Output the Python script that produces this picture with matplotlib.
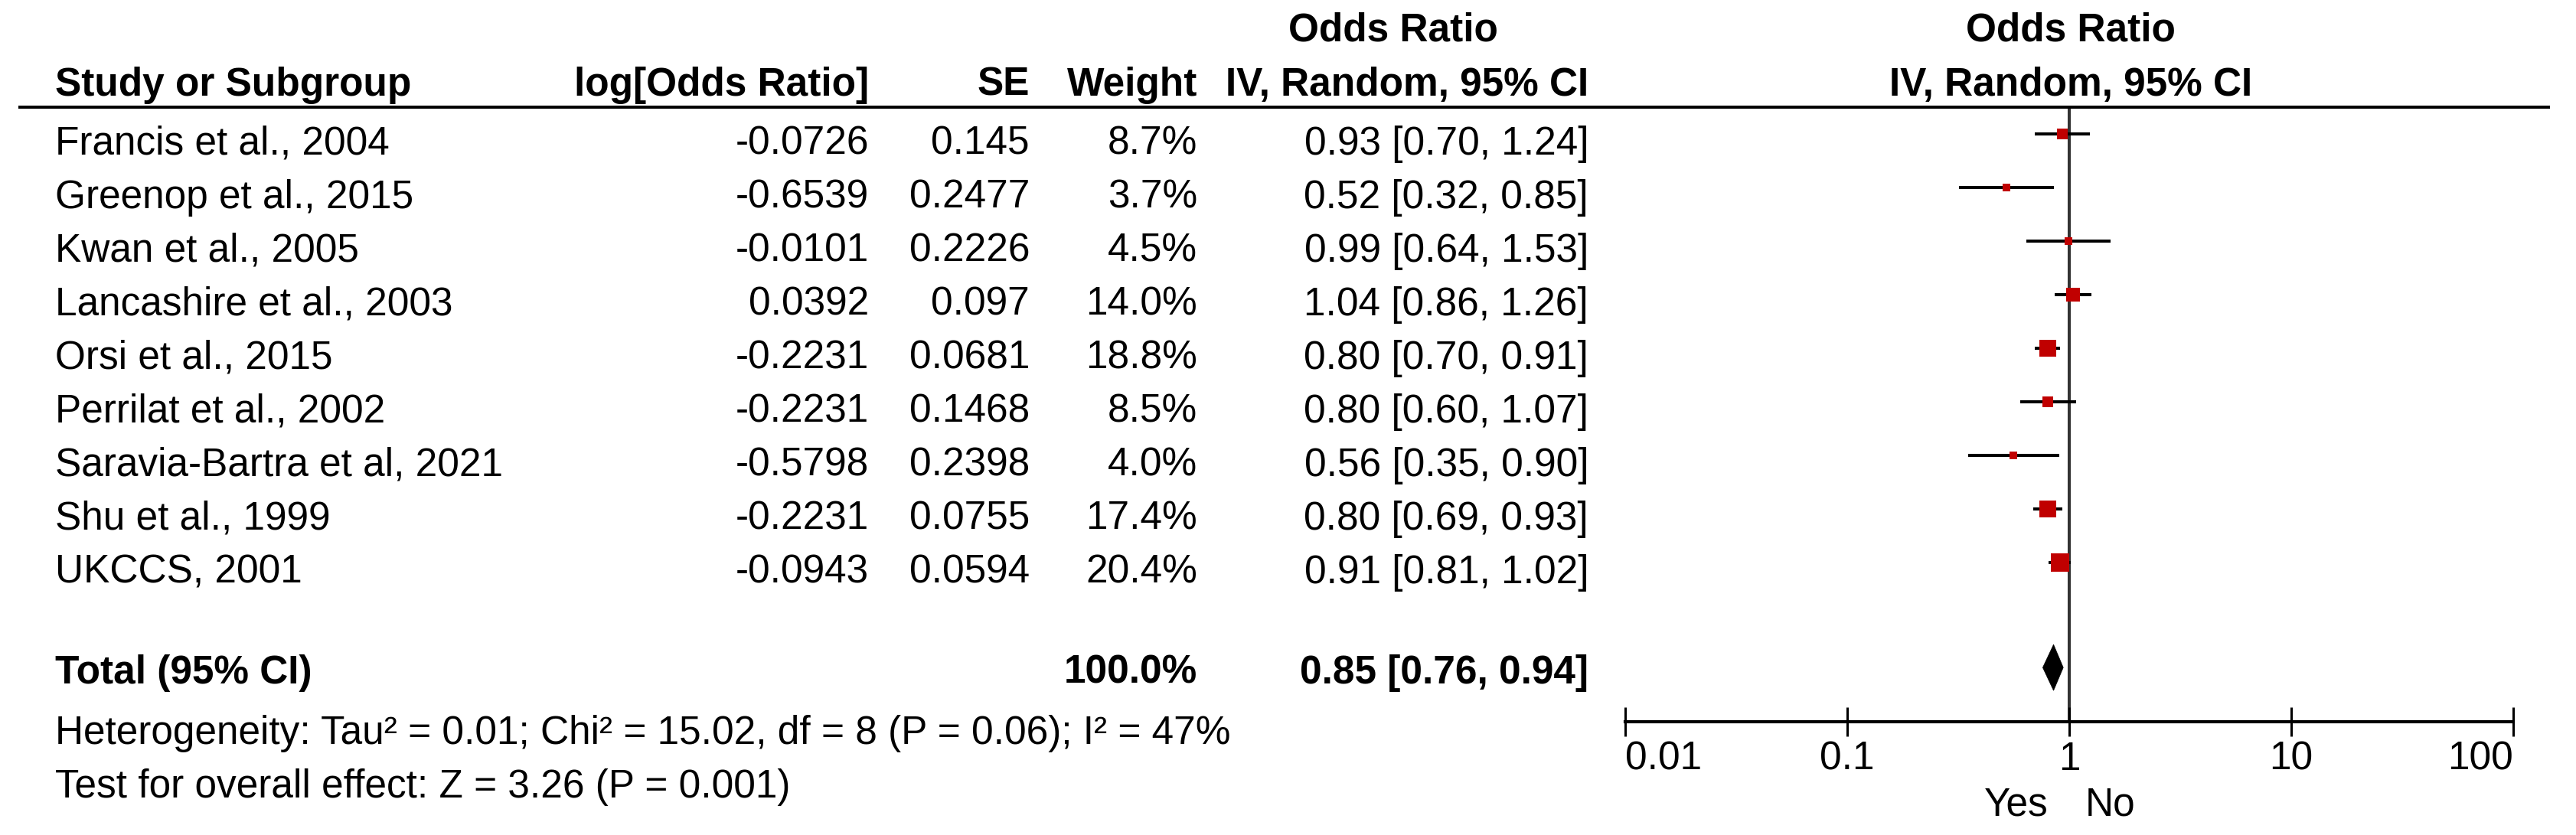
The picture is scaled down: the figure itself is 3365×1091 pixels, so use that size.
import matplotlib
matplotlib.use("Agg")
import matplotlib.pyplot as plt
from matplotlib.lines import Line2D
from matplotlib.patches import Polygon
import matplotlib.transforms as mtransforms

plt.rcParams['font.family'] = ['Liberation Sans', 'DejaVu Sans']

# ---------------- data ----------------
studies = ["Francis et al., 2004", "Greenop et al., 2015", "Kwan et al., 2005",
           "Lancashire et al., 2003", "Orsi et al., 2015", "Perrilat et al., 2002",
           "Saravia-Bartra et al, 2021", "Shu et al., 1999", "UKCCS, 2001"]
log_or = ["-0.0726", "-0.6539", "-0.0101", "0.0392", "-0.2231", "-0.2231",
          "-0.5798", "-0.2231", "-0.0943"]
se = ["0.145", "0.2477", "0.2226", "0.097", "0.0681", "0.1468", "0.2398",
      "0.0755", "0.0594"]
weights = [8.7, 3.7, 4.5, 14.0, 18.8, 8.5, 4.0, 17.4, 20.4]
odds = [0.93, 0.52, 0.99, 1.04, 0.80, 0.80, 0.56, 0.80, 0.91]
ci_low = [0.70, 0.32, 0.64, 0.86, 0.70, 0.60, 0.35, 0.69, 0.81]
ci_high = [1.24, 0.85, 1.53, 1.26, 0.91, 1.07, 0.90, 0.93, 1.02]

total_weight = 100.0
total_or = 0.85
total_low = 0.76
total_high = 0.94

heterogeneity = "Heterogeneity: Tau² = 0.01; Chi² = 15.02, df = 8 (P = 0.06); I² = 47%"
overall = "Test for overall effect: Z = 3.26 (P = 0.001)"

xticks = [0.01, 0.1, 1, 10, 100]
xticklabels = ["0.01", "0.1", "1", "10", "100"]
favours_left = "Yes"
favours_right = "No"

# ---------------- layout ----------------
W, H = 3365, 1091
DPI = 100
FS = 37
fig = plt.figure(figsize=(W / DPI, H / DPI), dpi=DPI)

row0_px = 175.0
row_step = 70.0
ax_left_px, ax_right_px = 2123, 3283
ax_top_px, ax_bot_px = 140, 943
ax = fig.add_axes([ax_left_px / W, 1 - ax_bot_px / H,
                   (ax_right_px - ax_left_px) / W, (ax_bot_px - ax_top_px) / H])
ax.set_xscale('log')
ax.set_xlim(0.01, 100)
r_top = (ax_top_px - row0_px) / row_step
r_bot = (ax_bot_px - row0_px) / row_step
ax.set_ylim(r_bot, r_top)

for s in ['top', 'left', 'right']:
    ax.spines[s].set_visible(False)
ax.spines['bottom'].set_linewidth(3.0)
ax.set_yticks([])
ax.set_xticks(xticks)
ax.set_xticklabels(xticklabels)
ax.minorticks_off()
ax.tick_params(axis='x', which='major', direction='inout', length=28,
               width=2.2, pad=4, labelsize=FS)
tl = ax.get_xticklabels()
tl[0].set_ha('left')
tl[-1].set_ha('right')

ax.axvline(1, color='#333333', lw=2.9, zorder=1)

rows = list(range(len(studies)))
red = '#C00000'
for r, o, lo, hi, w in zip(rows, odds, ci_low, ci_high, weights):
    ax.plot([lo, hi], [r, r], color='black', lw=2.9, solid_capstyle='butt', zorder=2)
    side_px = 6 + 0.9 * w
    side_pt = side_px * 72 / DPI
    ax.scatter([o], [r], marker='s', s=side_pt ** 2, color=red, linewidths=0, zorder=3)

total_row = 9.96
total_text_row = 9.87
hh = 30 / row_step
diamond = Polygon([(total_low, total_row), (total_or, total_row - hh),
                   (total_high, total_row), (total_or, total_row + hh)],
                  closed=True, facecolor='black', edgecolor='black', lw=0.5, zorder=3)
ax.add_patch(diamond)

ax.annotate(favours_left, xy=(1, 0), xycoords=('data', 'axes fraction'),
            xytext=(-27, -123), textcoords='offset pixels', ha='right',
            va='baseline', fontsize=FS)
ax.annotate(favours_right, xy=(1, 0), xycoords=('data', 'axes fraction'),
            xytext=(21, -123), textcoords='offset pixels', ha='left',
            va='baseline', fontsize=FS)

# ---------------- table text ----------------
tr = mtransforms.blended_transform_factory(fig.transFigure, ax.transData)
base_off = 27 / row_step


def col(xpx, r, s, ha, bold=False):
    ax.text(xpx / W, r + base_off, s, transform=tr, ha=ha, va='baseline',
            fontsize=FS, fontweight='bold' if bold else 'normal', clip_on=False)


for r, name, lg, s_e, w, o, lo, hi in zip(rows, studies, log_or, se, weights,
                                          odds, ci_low, ci_high):
    col(72, r, name, 'left')
    col(1135, r, lg, 'right')
    col(1345, r, s_e, 'right')
    col(1564, r, f"{w:.1f}%", 'right')
    col(2075, r, f"{o:.2f} [{lo:.2f}, {hi:.2f}]", 'right')

col(72, total_text_row, "Total (95% CI)", 'left', bold=True)
col(1564, total_text_row, f"{total_weight:.1f}%", 'right', bold=True)
col(2075, total_text_row, f"{total_or:.2f} [{total_low:.2f}, {total_high:.2f}]", 'right', bold=True)
col(72, 11, heterogeneity, 'left')
col(72, 12, overall, 'left')

# headers
def head(xpx, ybase_px, s, ha):
    fig.text(xpx / W, 1 - ybase_px / H, s, ha=ha, va='baseline', fontsize=FS,
             fontweight='bold')


head(72, 125, "Study or Subgroup", 'left')
head(1135, 125, "log[Odds Ratio]", 'right')
head(1345, 125, "SE", 'right')
head(1564, 125, "Weight", 'right')
head(1820, 53, "Odds Ratio", 'center')
head(2075, 125, "IV, Random, 95% CI", 'right')
head(2705, 53, "Odds Ratio", 'center')
head(2705, 125, "IV, Random, 95% CI", 'center')

fig.add_artist(Line2D([24 / W, 3331 / W], [1 - 140 / H, 1 - 140 / H],
                      color='black', lw=2.9, solid_capstyle='butt'))

fig.savefig("out.png", dpi=DPI)
